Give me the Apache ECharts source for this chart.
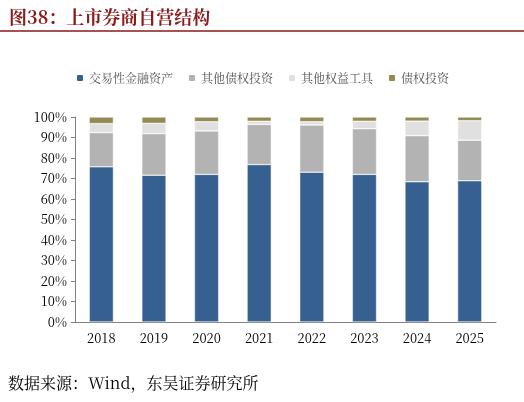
<!DOCTYPE html>
<html><head><meta charset="utf-8">
<script src="https://cdn.jsdelivr.net/npm/echarts@6/dist/echarts.min.js"></script>
<style>body{margin:0;background:#fff}#chart{width:524px;height:402px}</style>
</head><body><div id="chart"></div>
<script>
// data (%)
let years = ['2018','2019','2020','2021','2022','2023','2024','2025'];
let finAssets = [75.7, 71.6, 72.0, 76.8, 73.1, 72.0, 68.4, 68.9];
let otherDebt = [16.7, 20.3, 21.2, 19.6, 23.0, 22.3, 22.5, 19.8];
let otherEquity = [4.4, 5.0, 4.5, 1.5, 1.6, 3.6, 7.1, 9.5];
let debtInv = [3.2, 3.1, 2.3, 2.1, 2.3, 2.1, 2.0, 1.8];

let names = ['交易性金融资产','其他债权投资','其他权益工具','债权投资'];
let colors = ['#36608f','#b3b3b3','#e0e0e0','#948a54'];
let values = [finAssets, otherDebt, otherEquity, debtInv];

let chart = echarts.init(document.getElementById('chart'));
let serif = '"Noto Serif CJK SC","Liberation Serif","Noto Sans CJK SC",serif';

let option = {
    animation:false,
    textStyle:{fontFamily:serif,color:'#000'},
    title:{text:'图38：上市券商自营结构',left:4,top:3,
        textStyle:{fontSize:18,fontWeight:'bold',color:'#8b1a1a',fontFamily:serif}},
    graphic:[
        {type:'line',shape:{x1:0,y1:31,x2:524,y2:31},style:{stroke:'#8b1a1a',lineWidth:1.5}},
        {type:'text',left:8,top:375,style:{text:'数据来源：Wind，东吴证券研究所',fontSize:16,fontFamily:serif,fill:'#000'}}
    ],
    legend:{top:67,left:'center',itemWidth:8,itemHeight:8,itemGap:14,
        textStyle:{fontSize:12,fontFamily:serif}},
    grid:{left:75,right:28,top:117,bottom:80},
    xAxis:{type:'category',data:years,
        axisLine:{lineStyle:{color:'#808080'}},axisTick:{show:false},
        axisLabel:{fontSize:13,color:'#000',margin:10}},
    yAxis:{type:'value',min:0,max:100,interval:10,
        axisLine:{show:true,lineStyle:{color:'#808080'}},
        axisTick:{show:true,inside:false,length:4},
        splitLine:{show:false},
        axisLabel:{formatter:'{value}%',fontSize:13,color:'#000'}},
    series:names.map((n,i)=>({
        name:n,type:'bar',stack:'s',barWidth:'46%',
        itemStyle:{color:colors[i],borderColor:'#fff',borderWidth:0.5},
        data:values[i]
    }))
};
chart.setOption(option);
</script></body></html>
